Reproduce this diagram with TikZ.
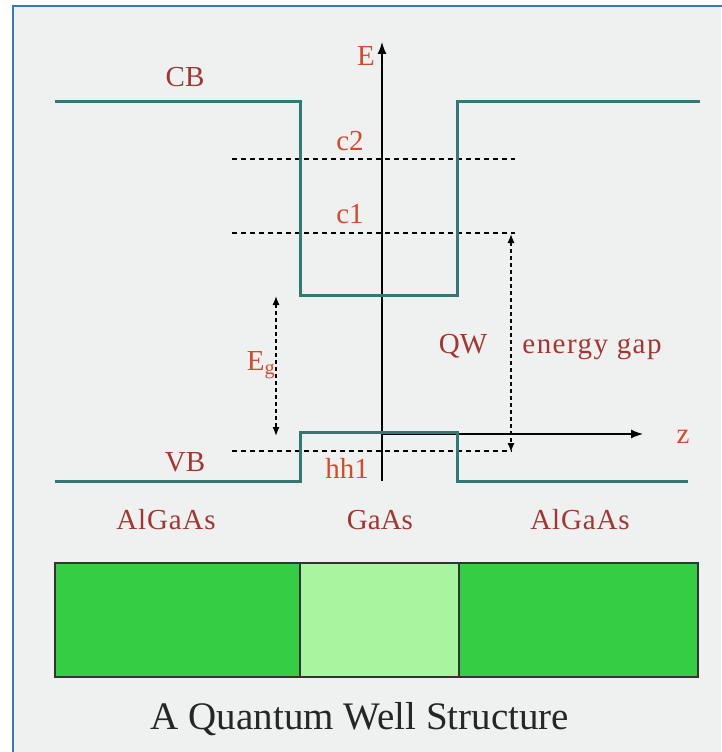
\documentclass[tikz,border=0pt]{standalone}
\usepackage{fontspec}
\setmainfont{Liberation Serif}
\usetikzlibrary{arrows.meta}
\definecolor{bgc}{RGB}{239,240,240}
\definecolor{framec}{RGB}{60,120,190}
\definecolor{bandc}{RGB}{50,120,115}
\definecolor{darkred}{RGB}{160,55,50}
\definecolor{orangered}{RGB}{210,75,45}
\definecolor{greenA}{RGB}{52,205,67}
\definecolor{greenB}{RGB}{168,245,160}
\tikzset{
  band/.style={draw=bandc, line width=3pt, line join=miter},
  axis/.style={draw=black, line width=1.3pt, -{Latex[length=12pt,width=9pt]}},
  level/.style={draw=black, line width=1.1pt, dash pattern=on 5pt off 4pt},
  gaparrow/.style={draw=black, line width=1.3pt, dash pattern=on 4pt off 3pt, {Latex[length=9pt,width=7pt]}-{Latex[length=9pt,width=7pt]}},
  lbl/.style={font=\fontsize{29}{33}\selectfont, text=darkred, inner sep=0pt},
  lblo/.style={font=\fontsize{29}{33}\selectfont, text=orangered, inner sep=0pt},
  layer/.style={draw=black!80, line width=1.2pt},
}
\begin{document}
\begin{tikzpicture}[x=1pt,y=-1pt]
\useasboundingbox (0,0) rectangle (721,752);
\fill[white] (0,0) rectangle (721,752);
\fill[bgc] (13,6) rectangle (721,752);
\draw[framec, line width=1.5pt] (13,760) -- (13,6) -- (730,6);

% axes
\coordinate (Ebot) at (382,481);
\coordinate (Etop) at (382,42);
\coordinate (zl) at (382,434);
\coordinate (zr) at (643,434);
\draw[axis] (Ebot) -- (Etop);
\draw[axis] (zl) -- (zr);

% levels
\coordinate (c2a) at (232,159); \coordinate (c2b) at (515,159);
\coordinate (c1a) at (232,233); \coordinate (c1b) at (515,233);
\coordinate (h1a) at (232,451); \coordinate (h1b) at (512,451);
\draw[level] (c2a) -- (c2b);
\draw[level] (c1a) -- (c1b);
\draw[level] (h1a) -- (h1b);

% bands
\draw[band] (55,101) -- (300,101) -- (300,295) -- (457,295) -- (457,101) -- (700,101);
\draw[band] (55,481) -- (300,481) -- (300,432) -- (457,432) -- (457,481) -- (688,481);

% gap arrows
\coordinate (egt) at (276,296); \coordinate (egb) at (276,436);
\coordinate (qwt) at (511,234); \coordinate (qwb) at (511,452);
\draw[gaparrow] (egt) -- (egb);
\draw[gaparrow] (qwt) -- (qwb);

% labels
\node[lbl] (cb) at (185,77) {CB};
\node[lblo] (E) at (366,56) {E};
\node[lblo] (c2) at (350,141) {c2};
\node[lblo] (c1) at (350,214) {c1};
\node[lblo] (hh1) at (347,468) {hh1};
\node[lbl] (vb) at (185,462) {VB};
\node[lblo] (Eg) at (261,365) {E\textsubscript{g}};
\node[lbl] (qw) at (463,346) {QW};
\node[lbl] (eg2) at (592,349) {\addfontfeature{LetterSpace=5}energy gap};
\node[lblo] (z) at (683,437) {z};

% layers
\draw[layer, fill=greenA] (55,563) rectangle (300,677);
\draw[layer, fill=greenB] (300,563) rectangle (459,677);
\draw[layer, fill=greenA] (459,563) rectangle (698,677);
\node[lbl] (al1) at (166,520) {\addfontfeature{LetterSpace=3}AlGaAs};
\node[lbl] (ga) at (380,520) {GaAs};
\node[lbl] (al2) at (580,520) {\addfontfeature{LetterSpace=3}AlGaAs};

\node[font=\fontsize{39}{44}\selectfont, text=black!85, inner sep=0pt] (title) at (360,719) {A Quantum Well Structure};
\end{tikzpicture}
\end{document}
